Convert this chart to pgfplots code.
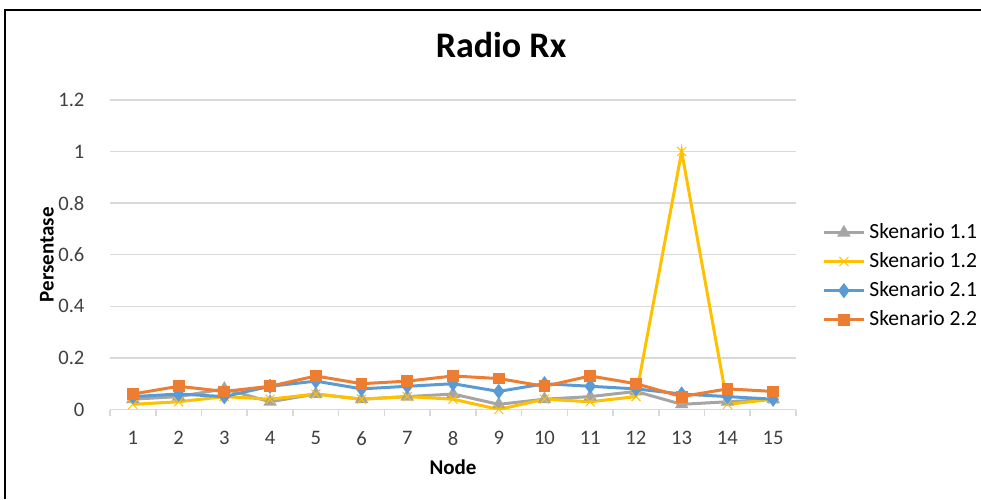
\documentclass[border=0pt]{standalone}
\usepackage{fontspec}
\setmainfont{Carlito}
\usepackage{pgfplots}
\pgfplotsset{compat=1.18}
\definecolor{sgray}{HTML}{A5A5A5}
\definecolor{syellow}{HTML}{FFC000}
\definecolor{sblue}{HTML}{5B9BD5}
\definecolor{sorange}{HTML}{ED7D31}
\definecolor{gridc}{HTML}{D9D9D9}
\begin{document}
\begin{tikzpicture}
\path[use as bounding box] (0,0) rectangle (490.5pt,249.5pt);
\draw[black, line width=1.1pt] (2.5pt,0pt) -- (2.5pt,244.5pt) -- (490.5pt,244.5pt);
\node[font=\fontsize{18}{20}\selectfont\bfseries] at (250.5pt,227pt) {Radio Rx};
\begin{axis}[
  at={(55pt,44.75pt)}, anchor=south west,
  scale only axis, width=343pt, height=154.75pt,
  xmin=0.5, xmax=15.5, ymin=0, ymax=1.2,
  xtick={1,...,15},
  minor xtick={0.5,1.5,...,15.5},
  major x tick style={draw=none},
  minor x tick style={draw=gridc, line width=0.8pt},
  minor tick length=3pt,
  tick align=outside,
  ytick={0,0.2,...,1.2},
  y tick style={draw=none},
  yticklabels={0,0.2,0.4,0.6,0.8,1,1.2},
  ymajorgrids, grid style={draw=gridc, line width=0.7pt},
  axis x line*=bottom, axis y line*=left,
  x axis line style={draw=gridc, line width=0.8pt},
  y axis line style={draw=none},
  /pgf/number format/assume math mode=true,
  tick label style={font=\fontsize{10.3}{12}\selectfont, text=black!75},
  yticklabel shift=5pt,
  xticklabel shift=3pt,
  xlabel={\textbf{Node}}, ylabel={\textbf{Persentase}},
  label style={font=\fontsize{10.5}{12}\selectfont},
  xlabel style={at={(axis description cs:0.5,0)}, anchor=center, yshift=-29pt},
  ylabel style={at={(axis description cs:0,0.5)}, anchor=center, yshift=31.5pt},
  legend style={draw=none, fill=none, at={(axis description cs:1,0.431)}, anchor=west, xshift=10pt,
    font=\fontsize{10.8}{12}\selectfont, row sep=1.5pt, legend cell align=left},
  legend image code/.code={\draw[mark repeat=2,mark phase=2] plot coordinates {(0pt,0pt) (10pt,0pt) (20pt,0pt)};},
  every axis plot/.append style={line width=1.5pt},
]
\addplot[color=sgray, mark=triangle*, mark size=2.4pt, mark options={solid}] coordinates {
(1,0.04)(2,0.05)(3,0.08)(4,0.03)(5,0.06)(6,0.04)(7,0.05)(8,0.06)(9,0.02)(10,0.04)(11,0.05)(12,0.07)(13,0.02)(14,0.03)(15,0.04)};
\addlegendentry{Skenario 1.1}
\addplot[color=syellow, mark=x, mark size=3.2pt, mark options={line width=0.5pt}] coordinates {
(1,0.02)(2,0.03)(3,0.05)(4,0.04)(5,0.06)(6,0.04)(7,0.05)(8,0.04)(9,0.0)(10,0.04)(11,0.03)(12,0.05)(13,1.0)(14,0.02)(15,0.04)};
\addlegendentry{Skenario 1.2}
\addplot[color=sblue, mark=diamond*, mark size=2.6pt] coordinates {
(1,0.05)(2,0.06)(3,0.05)(4,0.09)(5,0.11)(6,0.08)(7,0.09)(8,0.10)(9,0.07)(10,0.10)(11,0.09)(12,0.08)(13,0.06)(14,0.05)(15,0.04)};
\addlegendentry{Skenario 2.1}
\addplot[color=sorange, mark=square*, mark size=2.2pt] coordinates {
(1,0.06)(2,0.09)(3,0.07)(4,0.09)(5,0.13)(6,0.10)(7,0.11)(8,0.13)(9,0.12)(10,0.09)(11,0.13)(12,0.10)(13,0.05)(14,0.08)(15,0.07)};
\addlegendentry{Skenario 2.2}
\end{axis}
\end{tikzpicture}
\end{document}
